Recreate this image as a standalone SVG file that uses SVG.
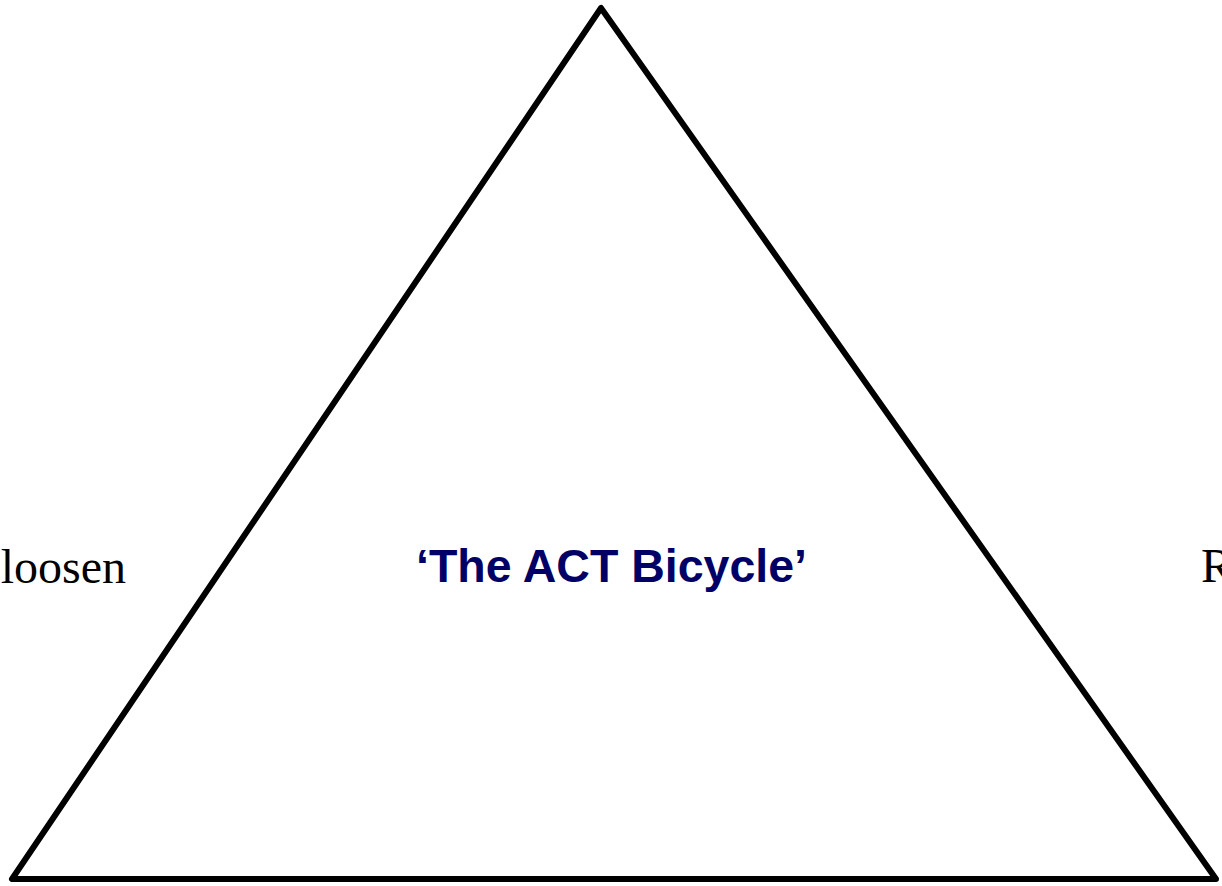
<svg xmlns="http://www.w3.org/2000/svg" width="1222" height="886" viewBox="0 0 1222 886">
  <style>
    .edge { fill: none; stroke: #000000; stroke-width: 6; stroke-linejoin: round; }
    .side { font-family: "Liberation Serif", "Times New Roman", serif; font-size: 48px; fill: #000000; }
    .title { font-family: "Liberation Sans", Arial, sans-serif; font-size: 46.5px; font-weight: bold; fill: #000066; }
  </style>
  <rect width="1222" height="886" fill="#ffffff"/>
  <g id="triangle">
    <polygon class="edge" points="601,8 12,879 1216,879"/>
  </g>
  <g id="title">
    <text class="title" x="611.5" y="582" text-anchor="middle">‘The ACT Bicycle’</text>
  </g>
  <g id="left-label">
    <text class="side" x="126" y="583" text-anchor="end">loosen</text>
  </g>
  <g id="right-label">
    <text class="side" x="1201" y="582">R</text>
  </g>
  <g id="connectors"></g>
</svg>
